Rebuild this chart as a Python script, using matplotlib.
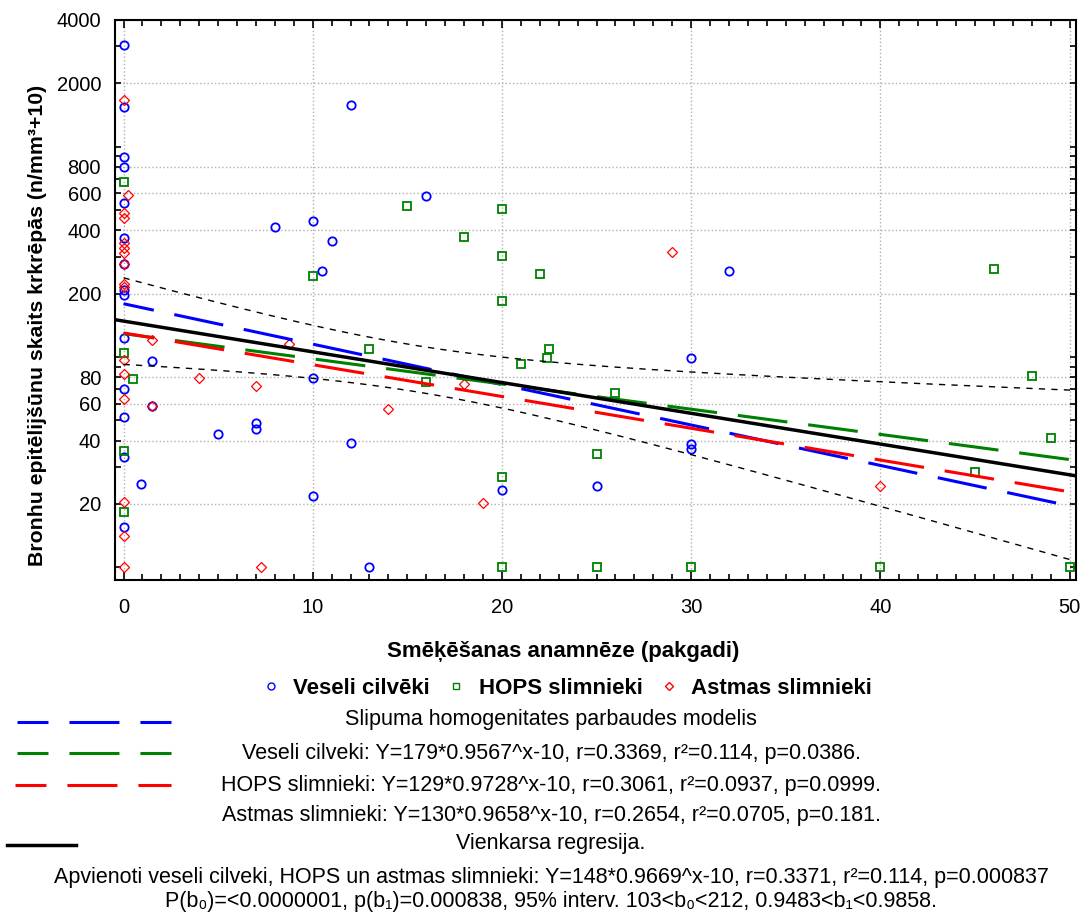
import numpy as np
import matplotlib
matplotlib.use("Agg")
import matplotlib.pyplot as plt
from matplotlib.lines import Line2D
from matplotlib.ticker import FixedLocator, MultipleLocator, NullFormatter, FuncFormatter

plt.rcParams['font.family'] = ['Liberation Sans', 'DejaVu Sans']
plt.rcParams['lines.scale_dashes'] = False

# data (values on axis = n/mm3 + 10)
vesel_x = [0, 0, 12, 0, 0, 0, 8, 10, 11, 0, 0, 10.5, 0, 0, 16, 30, 32, 0, 1.5, 10,
           0, 1.5, 0, 5, 7, 7, 12, 0, 0.9, 10, 0, 20, 25, 30, 30, 13]
vesel_y = [3040, 1550, 1580, 895, 800, 537, 413, 444, 357, 366, 277, 257, 207, 196, 585, 99, 257, 123, 95.5, 79.7,
           70, 58.4, 51.5, 43, 48.3, 45.3, 39, 33.3, 24.8, 21.8, 15.5, 23.4, 24.3, 38.5, 36.5, 10]

hops_x = [0, 10, 15, 20, 18, 20, 22, 20, 13, 22.5, 22.4, 21, 16, 26, 25, 20, 20, 25, 30, 40,
          50, 46, 48, 49, 45, 0, 0.5, 0, 0]
hops_y = [680, 243, 524, 505, 370, 303, 248, 184, 109, 109, 99, 92.6, 76, 67.6, 34.5, 26.7, 10, 10, 10, 10,
          10, 262, 81, 41.3, 28.2, 104, 78.5, 35.6, 18.3]

astma_x = [0, 0.25, 0, 0, 0, 0, 0, 0, 0, 0, 1.5, 0, 0, 4, 7, 8.75, 0, 1.5, 14, 18,
           29, 19, 40, 0, 0, 0, 7.25]
astma_y = [1670, 590, 485, 460, 347, 328, 311, 277, 221, 214, 120, 97, 82.6, 79.7, 72.7, 115, 63, 58.4, 56.5, 74,
           314, 20.3, 24.2, 20.5, 14, 10, 10]

group_names = ['Veseli cilvēki', 'HOPS slimnieki', 'Astmas slimnieki']
group_colors = ['#0000ff', '#008000', '#ff0000']

# group models Y+10 = a*b^x
model_a = [179, 129, 130]
model_b = [0.9567, 0.9728, 0.9658]
# combined model + 95% band (log10 half width)
comb_a, comb_b = 148, 0.9669
band_hw_min, band_xmean, band_slope_se = 0.11, 15.5, 0.01123

legend_texts = [
    'Slipuma homogenitates parbaudes modelis',
    'Veseli cilveki: Y=179*0.9567^x-10, r=0.3369, r²=0.114, p=0.0386.',
    'HOPS slimnieki: Y=129*0.9728^x-10, r=0.3061, r²=0.0937, p=0.0999.',
    'Astmas slimnieki: Y=130*0.9658^x-10, r=0.2654, r²=0.0705, p=0.181.',
    'Vienkarsa regresija.',
    'Apvienoti veseli cilveki, HOPS un astmas slimnieki: Y=148*0.9669^x-10, r=0.3371, r²=0.114, p=0.000837',
    'P(b₀)=<0.0000001, p(b₁)=0.000838, 95% interv. 103<b₀<212, 0.9483<b₁<0.9858.',
]

W, H = 1081, 914
fig = plt.figure(figsize=(W / 100, H / 100), dpi=100)
ax = fig.add_axes([115 / W, 1 - 580 / H, 961 / W, 560 / H])

xmin, xmax = -0.45, 50.34
ax.set_xlim(xmin, xmax)
ax.set_yscale('log')
ax.set_ylim(8.69, 4000)

# scatter
ax.plot(vesel_x, vesel_y, 'o', ms=6, mfc='none', mec=group_colors[0], mew=1.3, zorder=3)
ax.plot(hops_x, hops_y, 's', ms=5.5, mfc='none', mec=group_colors[1], mew=1.3, zorder=3)
ax.plot(astma_x, astma_y, 'D', ms=5, mfc='none', mec=group_colors[2], mew=0.9, zorder=3)

dash = (13.7, (36, 15.1))
xs = np.linspace(0, xmax, 400)
for a, b, c in zip(model_a, model_b, group_colors):
    ax.plot(xs, a * b ** xs, color=c, lw=2.2, linestyle=dash, zorder=4)

xf = np.linspace(xmin, xmax, 400)
ax.plot(xf, comb_a * comb_b ** xf, color='black', lw=2.5, zorder=5)
hw = np.sqrt(band_hw_min ** 2 + (band_slope_se * (xs - band_xmean)) ** 2)
center = comb_a * comb_b ** xs
ax.plot(xs, center * 10 ** hw, color='black', lw=1.0, linestyle=(0, (4.5, 4.5)), zorder=5)
ax.plot(xs, center / 10 ** hw, color='black', lw=1.0, linestyle=(0, (4.5, 4.5)), zorder=5)

# ticks
ylab_vals = [20, 40, 60, 80, 200, 400, 600, 800, 2000, 4000]
yminor = [10, 30, 50, 70, 90, 100, 300, 500, 700, 900, 1000, 3000]
ax.yaxis.set_major_locator(FixedLocator(ylab_vals))
ax.yaxis.set_minor_locator(FixedLocator(yminor))
ax.yaxis.set_major_formatter(FuncFormatter(lambda v, p: '%d' % v))
ax.yaxis.set_minor_formatter(NullFormatter())
ax.xaxis.set_major_locator(MultipleLocator(10))
ax.xaxis.set_minor_locator(MultipleLocator(1))
ax.tick_params(which='both', direction='in', top=True, right=True, labelsize=14.5, width=1.2)
ax.tick_params(axis='y', which='both', length=4, pad=10)
ax.tick_params(axis='x', which='major', length=6, pad=13)
ax.tick_params(axis='x', which='minor', length=4)
for s in ax.spines.values():
    s.set_linewidth(1.5)
ax.grid(True, which='major', ls=':', color='#b0b0b0', lw=1)

fig.text(38 / W, 1 - 325 / H, 'Bronhu epitēlijšūnu skaits krkrēpās (n/mm³+10)', rotation=90,
         ha='center', va='center', fontsize=15.3, fontweight='bold')
fig.text(563 / W, 1 - 652 / H, 'Smēķēšanas anamnēze (pakgadi)', ha='center', va='center',
         fontsize=16, fontweight='bold')

# marker legend row
handles = [Line2D([], [], ls='none', marker=m, ms=ms, mfc='none', mec=c, mew=1)
           for m, ms, c in zip(['o', 's', 'D'], [5, 5, 4], group_colors)]
fig.legend(handles, group_names, loc='center', bbox_to_anchor=(566 / W, 1 - 688 / H), ncol=3,
           frameon=False, prop={'weight': 'bold', 'size': 16}, handlelength=1.0,
           handletextpad=0.5, columnspacing=0.7)

# line legend block
sample_rows = [(722, group_colors[0], 17, 171), (753, group_colors[1], 17, 171), (785, group_colors[2], 15, 171)]
for y, c, x0, x1 in sample_rows:
    fig.add_artist(Line2D([x0 / W, x1 / W], [1 - y / H] * 2, color=c, lw=2.2, linestyle=dash))
fig.add_artist(Line2D([7 / W, 76 / W], [1 - 845 / H] * 2, color='black', lw=2.5))

text_rows = [720, 754, 785, 815, 843, 877, 902]
for y, t in zip(text_rows, legend_texts):
    fig.text(551 / W, 1 - y / H, t, ha='center', va='center', fontsize=15.5)

fig.savefig('out.png', dpi=100)
